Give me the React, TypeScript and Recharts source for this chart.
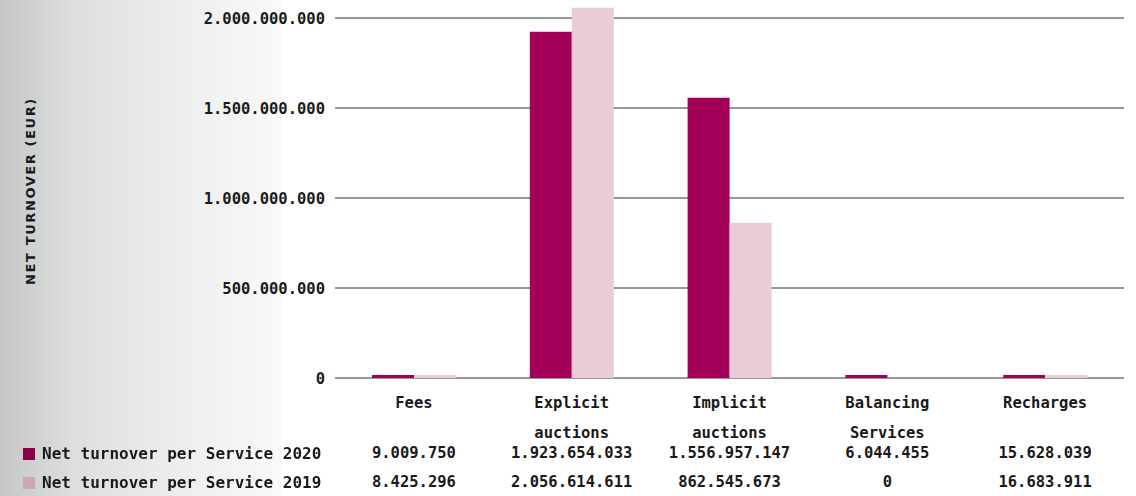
import React from 'react';
import { Bar, BarChart, CartesianGrid, Label, XAxis, YAxis } from 'recharts';

const categories = ['Fees', 'Explicit auctions', 'Implicit auctions', 'Balancing Services', 'Recharges'];
const turnover2020 = [9009750, 1923654033, 1556957147, 6044455, 15628039];
const turnover2019 = [8425296, 2056614611, 862545673, 0, 16683911];
const yTicks = [0, 500000000, 1000000000, 1500000000, 2000000000];

const series = [
	{ key: 'y2020', name: 'Net turnover per Service 2020', bar: '#a3005a', swatch: '#8a0049' },
	{ key: 'y2019', name: 'Net turnover per Service 2019', bar: '#eaccd9', swatch: '#c9a7b4' }
];

const data = categories.map((name, i) => ({ name, y2020: turnover2020[i], y2019: turnover2019[i] }));

const fmtDots = (n: number): string => String(Math.round(n)).replace(/\B(?=(\d{3})+(?!\d))/g, '.');

const MONO = '"DejaVu Sans Mono", monospace';

const CategoryTick = (props: any) => {
	const { x, payload, index } = props;
	const words = String(payload.value).split(' ');
	const top = 403;
	const textProps = {
		textAnchor: 'middle' as const,
		dominantBaseline: 'central' as const,
		fontFamily: MONO,
		fontWeight: 700,
		fontSize: 15.5,
		fill: '#1a1a1a'
	};
	return (
		<g>
			{words.map((w, i) => (
				<text
					key={w}
					x={x}
					y={top + i * 30}
					{...textProps}
				>
					{w}
				</text>
			))}
			<text
				x={x}
				y={453}
				{...textProps}
			>
				{fmtDots(turnover2020[index])}
			</text>
			<text
				x={x}
				y={482}
				{...textProps}
			>
				{fmtDots(turnover2019[index])}
			</text>
		</g>
	);
};

const TableLegend = () => (
	<div style={{ position: 'absolute', left: 0, top: 439, fontFamily: MONO, fontWeight: 700, fontSize: 16, color: '#1a1a1a' }}>
		{series.map((s) => (
			<div
				key={s.key}
				style={{ display: 'flex', alignItems: 'center', height: 29 }}
			>
				<span style={{ display: 'inline-block', width: 12, height: 12, background: s.swatch, marginLeft: 23, marginRight: 7 }} />
				<span>{s.name}</span>
			</div>
		))}
	</div>
);

const AxisTitle = () => (
	<text
		x={30}
		y={191}
		transform='rotate(-90 30 191)'
		textAnchor='middle'
		dominantBaseline='central'
		fontFamily='"DejaVu Sans", sans-serif'
		fontWeight={700}
		fontSize={13}
		letterSpacing={1.6}
		fill='#1a1a1a'
	>
		NET TURNOVER (EUR)
	</text>
);

// tiny values still show as a thin strip, zero stays empty
const minStrip = (value: any) => (Number(value) > 0 ? 3 : 0);

export default function App() {
	return (
		<div
			style={{
				position: 'fixed',
				left: 0,
				top: 0,
				width: 1136,
				height: 496,
				background: 'linear-gradient(to right, #c5c7c7 0px, #dcdede 70px, #eaebeb 160px, #f9f9f9 281px, #ffffff 282px)'
			}}
		>
			<BarChart
				width={1136}
				height={496}
				data={data}
				margin={{ top: 0, right: 12, left: 0, bottom: 0 }}
				barGap={0}
				barSize={42}
			>
				<CartesianGrid
					vertical={false}
					stroke='#2e2e2e'
					strokeOpacity={1}
					syncWithTicks
				/>
				<XAxis
					dataKey='name'
					axisLine={false}
					tickLine={false}
					interval={0}
					height={118}
					tick={<CategoryTick />}
				/>
				<YAxis
					width={335}
					domain={[0, 2100000000]}
					ticks={yTicks}
					allowDataOverflow
					axisLine={false}
					tickLine={false}
					tickMargin={4}
					tickFormatter={fmtDots}
					tick={{ fontFamily: MONO, fontWeight: 700, fontSize: 15.5, fill: '#1a1a1a' }}
				>
					<Label content={<AxisTitle />} />
				</YAxis>
				{series.map((s) => (
					<Bar
						key={s.key}
						dataKey={s.key}
						name={s.name}
						fill={s.bar}
						minPointSize={minStrip}
						isAnimationActive={false}
					/>
				))}
			</BarChart>
			<TableLegend />
		</div>
	);
}
